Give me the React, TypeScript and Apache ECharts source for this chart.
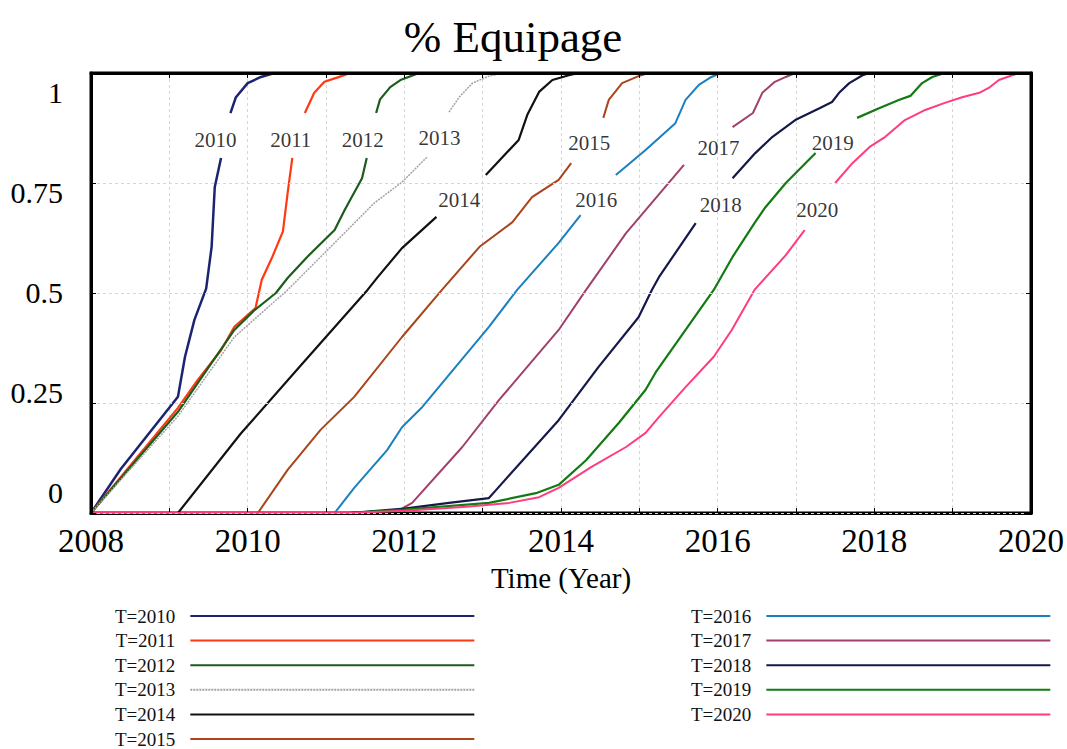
import React, { useEffect, useRef } from "react";
import * as echarts from "echarts";

const FONT = "'Liberation Serif', 'Times New Roman', serif";

const seriesNames = ["T=2010", "T=2011", "T=2012", "T=2013", "T=2014", "T=2015", "T=2016", "T=2017", "T=2018", "T=2019", "T=2020"];
const seriesColors = ["#1c2472", "#ff3a12", "#1d5c1d", "#a3a3a3", "#111111", "#a9441c", "#1a80c0", "#a0406c", "#15194a", "#127a12", "#ff3d7c"];
const seriesWidths = [2.5, 2.2, 2.2, 1.5, 2.2, 2, 2, 2, 2.2, 2.2, 2];

const t2010 = [[2008, 0], [2008.38, 0.1], [2009.11, 0.264], [2009.2, 0.355], [2009.32, 0.439], [2009.47, 0.51], [2009.54, 0.605], [2009.58, 0.741], [2009.66, 0.807], [2009.72, null], [2009.78, 0.909], [2009.85, 0.945], [2010.0, 0.977], [2010.17, 0.991], [2010.34, 1], [2020, 1]];
const t2011 = [[2008, 0], [2009.11, 0.239], [2009.36, 0.302], [2009.66, 0.37], [2009.83, 0.423], [2010.1, 0.466], [2010.18, 0.53], [2010.31, 0.58], [2010.45, 0.64], [2010.51, 0.727], [2010.57, 0.807], [2010.65, null], [2010.73, 0.909], [2010.85, 0.955], [2010.98, 0.98], [2011.15, 0.99], [2011.31, 1], [2020, 1]];
const t2012 = [[2008, 0], [2009.11, 0.23], [2009.83, 0.416], [2010.08, 0.46], [2010.36, 0.5], [2010.51, 0.534], [2010.76, 0.582], [2011.11, 0.643], [2011.24, 0.689], [2011.46, 0.761], [2011.52, 0.807], [2011.58, null], [2011.64, 0.909], [2011.69, 0.94], [2011.82, 0.968], [2011.95, 0.984], [2012.19, 1], [2020, 1]];
const t2013 = [[2008, 0], [2009.11, 0.22], [2009.83, 0.4], [2010.51, 0.507], [2011.11, 0.614], [2011.62, 0.705], [2011.97, 0.752], [2012.29, 0.809], [2012.43, null], [2012.57, 0.911], [2012.7, 0.945], [2012.87, 0.977], [2013.08, 0.993], [2013.27, 1], [2020, 1]];
const t2014 = [[2008, 0], [2009.11, 0], [2009.91, 0.18], [2010.68, 0.336], [2011.53, 0.507], [2011.66, 0.536], [2011.97, 0.602], [2012.41, 0.673], [2012.7, null], [2013.04, 0.768], [2013.46, 0.848], [2013.57, 0.905], [2013.72, 0.957], [2013.89, 0.984], [2014.1, 0.995], [2014.23, 1], [2020, 1]];
const t2015 = [[2008, 0], [2010.13, 0], [2010.51, 0.098], [2010.93, 0.189], [2011.36, 0.264], [2011.97, 0.4], [2012.48, 0.507], [2012.96, 0.605], [2013.38, 0.661], [2013.63, 0.718], [2013.97, 0.757], [2014.13, 0.795], [2014.35, null], [2014.54, 0.898], [2014.61, 0.939], [2014.78, 0.977], [2014.99, 0.993], [2015.12, 1], [2020, 1]];
const t2016 = [[2008, 0], [2011.11, 0], [2011.36, 0.057], [2011.78, 0.143], [2011.97, 0.195], [2012.23, 0.241], [2013.08, 0.423], [2013.44, 0.507], [2013.97, 0.614], [2014.25, 0.677], [2014.5, null], [2014.7, 0.768], [2015.08, 0.825], [2015.46, 0.886], [2015.59, 0.939], [2015.76, 0.973], [2015.92, 0.991], [2016.04, 1], [2020, 1]];
const t2017 = [[2008, 0], [2011.3, 0], [2011.94, 0.007], [2012.1, 0.023], [2012.74, 0.15], [2013.21, 0.257], [2013.97, 0.416], [2014.32, 0.507], [2014.83, 0.636], [2015.57, 0.791], [2015.9, null], [2016.19, 0.877], [2016.45, 0.909], [2016.57, 0.955], [2016.73, 0.98], [2016.87, 0.991], [2016.99, 1], [2020, 1]];
const t2018 = [[2008, 0], [2011.3, 0], [2012.0, 0.01], [2012.57, 0.023], [2013.08, 0.034], [2013.17, 0.052], [2013.97, 0.211], [2014.48, 0.332], [2014.99, 0.445], [2015.16, 0.507], [2015.25, 0.536], [2015.72, 0.659], [2015.95, null], [2016.19, 0.761], [2016.48, 0.818], [2016.7, 0.855], [2016.99, 0.893], [2017.3, 0.92], [2017.46, 0.934], [2017.55, 0.955], [2017.68, 0.977], [2017.85, 0.995], [2017.94, 1], [2020, 1]];
const t2019 = [[2008, 0], [2011.3, 0], [2012.0, 0.008], [2013.08, 0.023], [2013.68, 0.045], [2013.97, 0.064], [2014.32, 0.12], [2014.74, 0.205], [2015.08, 0.28], [2015.21, 0.32], [2015.95, 0.507], [2016.19, 0.582], [2016.47, 0.659], [2016.61, 0.695], [2016.87, 0.75], [2017.25, 0.818], [2017.5, null], [2017.78, 0.898], [2018.06, 0.92], [2018.32, 0.939], [2018.46, 0.948], [2018.61, 0.977], [2018.74, 0.991], [2018.9, 1], [2020, 1]];
const t2020 = [[2008, 0], [2011.3, 0], [2012.0, 0.005], [2012.79, 0.014], [2013.34, 0.023], [2013.72, 0.036], [2013.97, 0.057], [2014.39, 0.105], [2014.83, 0.15], [2015.08, 0.182], [2015.25, 0.218], [2015.59, 0.286], [2015.95, 0.355], [2016.18, 0.416], [2016.47, 0.507], [2016.87, 0.586], [2017.11, 0.643], [2017.3, null], [2017.5, 0.75], [2017.72, 0.795], [2017.94, 0.832], [2018.14, 0.855], [2018.39, 0.893], [2018.65, 0.916], [2018.9, 0.932], [2019.12, 0.945], [2019.34, 0.955], [2019.46, 0.966], [2019.59, 0.984], [2019.76, 0.995], [2019.85, 1], [2020, 1]];

const seriesData = [t2010, t2011, t2012, t2013, t2014, t2015, t2016, t2017, t2018, t2019, t2020];

const curveLabelText = ["2010", "2011", "2012", "2013", "2014", "2015", "2016", "2017", "2018", "2019", "2020"];
const curveLabelX = [2009.59, 2010.55, 2011.47, 2012.45, 2012.7, 2014.36, 2014.45, 2016.01, 2016.04, 2017.47, 2017.27];
const curveLabelY = [0.848, 0.848, 0.848, 0.852, 0.711, 0.841, 0.711, 0.83, 0.7, 0.841, 0.689];

const yTickLabels = [0, 0.25, 0.5, 0.75, 1];

export default function App() {
  const ref = useRef<HTMLDivElement>(null);

  useEffect(() => {
    if (!ref.current) return;
    const chart = echarts.init(ref.current, null, { renderer: "svg" });

    const lineSeries = seriesNames.map((name, i) => ({
      name,
      type: "line",
      data: seriesData[i],
      symbol: "none",
      connectNulls: false,
      silent: true,
      lineStyle: {
        color: seriesColors[i],
        width: seriesWidths[i],
        type: i === 3 ? [2, 1] : "solid",
      },
      itemStyle: { color: seriesColors[i] },
      z: 3,
    }));

    const labelSeries = {
      name: "curveLabels",
      type: "scatter",
      symbolSize: 0,
      silent: true,
      data: curveLabelText.map((t, i) => [curveLabelX[i], curveLabelY[i], t]),
      label: {
        show: true,
        position: "inside",
        formatter: (p: any) => p.value[2],
        color: "#000",
        fontSize: 21,
        fontFamily: FONT,
      },
      z: 5,
    };

    const legendCommon = {
      orient: "vertical",
      align: "right",
      itemWidth: 284,
      itemHeight: 12,
      itemGap: 4.6,
      padding: 0,
      selectedMode: false,
      itemStyle: { opacity: 0 },
      textStyle: {
        fontFamily: FONT,
        fontSize: 19,
        color: "#111",
        lineHeight: 20,
        padding: [0, 10, 0, 0],
      },
    };

    const frameAxis = {
      axisLine: { show: true, onZero: false, lineStyle: { color: "#000", width: 3 } },
      axisTick: { show: true, inside: true, length: 5, lineStyle: { color: "#000", width: 1 } },
    };

    chart.setOption({
      animation: false,
      backgroundColor: "#fff",
      title: {
        text: "% Equipage",
        left: 508,
        top: 9,
        textAlign: "center",
        textStyle: { fontFamily: FONT, fontSize: 45, fontWeight: "normal", color: "#000" },
      },
      legend: [
        { ...legendCommon, data: seriesNames.slice(0, 6), left: 115, top: 606 },
        { ...legendCommon, data: seriesNames.slice(6), left: 691, top: 606 },
      ],
      grid: { left: 91, right: 34, top: 73, bottom: 236, show: true, borderColor: "#000", borderWidth: 3, backgroundColor: "#fff" },
      xAxis: [
        {
          type: "value",
          min: 2008,
          max: 2020,
          interval: 1,
          position: "bottom",
          name: "Time (Year)",
          nameLocation: "middle",
          nameGap: 50,
          nameTextStyle: { fontFamily: FONT, fontSize: 29, color: "#000" },
          ...frameAxis,
          axisLabel: {
            fontFamily: FONT,
            fontSize: 33,
            color: "#000",
            margin: 11,
            formatter: (v: number) => (Math.round(v) % 2 === 0 ? String(Math.round(v)) : ""),
          },
          splitLine: { show: true, lineStyle: { color: "#d6d6d6", width: 1, type: [3, 3] } },
        },
        {
          type: "value",
          min: 2008,
          max: 2020,
          interval: 1,
          position: "top",
          z: 10,
          ...frameAxis,
          axisLabel: { show: false },
          splitLine: { show: false },
        },
      ],
      yAxis: [
        {
          type: "value",
          min: 0,
          max: 1,
          interval: 0.25,
          position: "left",
          z: 10,
          ...frameAxis,
          axisLabel: { show: false },
          splitLine: { show: true, lineStyle: { color: "#d6d6d6", width: 1, type: [3, 3] } },
        },
        {
          type: "value",
          min: -0.0526,
          max: 1.0501,
          position: "left",
          axisLine: { show: false, onZero: false },
          axisTick: { show: false },
          splitLine: { show: false },
          axisLabel: {
            customValues: yTickLabels,
            fontFamily: FONT,
            fontSize: 30,
            color: "#000",
            margin: 28,
            formatter: (v: number) => String(v),
          },
        },
        {
          type: "value",
          min: 0,
          max: 1,
          interval: 0.25,
          position: "right",
          z: 10,
          ...frameAxis,
          axisLabel: { show: false },
          splitLine: { show: false },
        },
      ],
      series: [...lineSeries, labelSeries],
    });

    return () => chart.dispose();
  }, []);

  return (
    <div
      ref={ref}
      style={{ position: "fixed", left: 0, top: 0, width: 1067, height: 749, background: "#fff" }}
    />
  );
}
